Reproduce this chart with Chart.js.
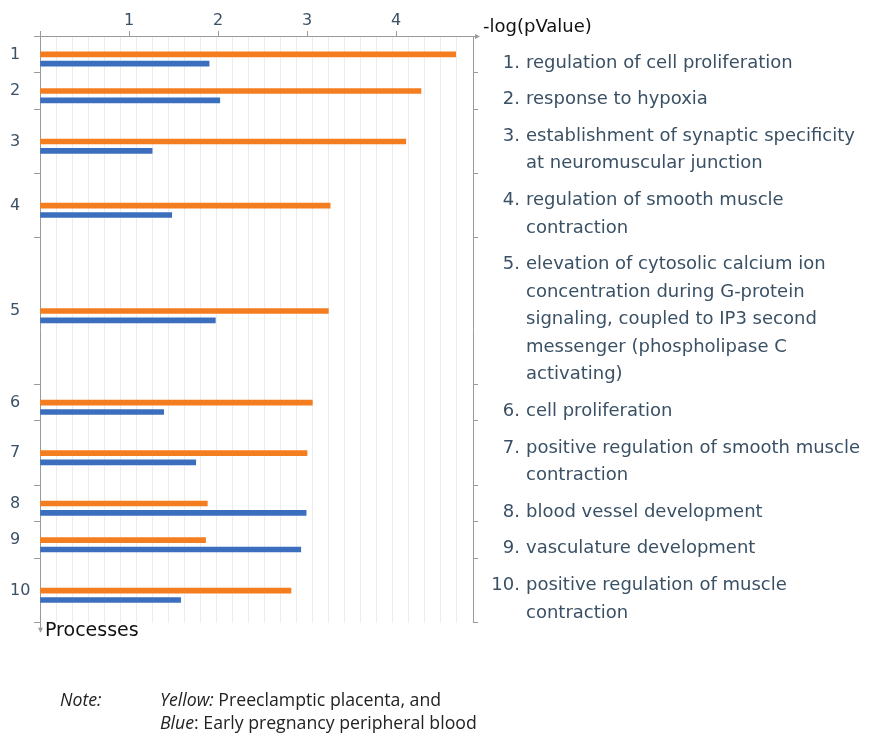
<!DOCTYPE html>
<html>
<head>
<meta charset="utf-8">
<script src="https://cdn.jsdelivr.net/npm/chart.js@4.4.0/dist/chart.umd.min.js"></script>
<style>
  html, body { margin: 0; padding: 0; background: #fff; }
  #wrap { position: relative; width: 869px; height: 735px; }
  #chart { position: absolute; left: 0; top: 0; }
  .note { position: absolute; font-family: "Open Sans", Lato, sans-serif; font-size: 17.7px; color: #222; white-space: nowrap; line-height: 23px; }
</style>
</head>
<body>
<div id="wrap">
  <canvas id="chart" width="869" height="735"></canvas>
  <div class="note" style="left:60px; top:688px;"><i>Note:</i></div>
  <div class="note" style="left:160px; top:688px;"><i>Yellow:</i> Preeclamptic placenta, and<br><i>Blue</i>: Early pregnancy peripheral blood</div>
</div>
<script>
// process numbers and their names (one entry per wrapped line)
const processes = ['1', '2', '3', '4', '5', '6', '7', '8', '9', '10'];
const processNames = [
    ['regulation of cell proliferation'],
    ['response to hypoxia'],
    ['establishment of synaptic specificity', 'at neuromuscular junction'],
    ['regulation of smooth muscle', 'contraction'],
    ['elevation of cytosolic calcium ion', 'concentration during G-protein', 'signaling, coupled to IP3 second', 'messenger (phospholipase C', 'activating)'],
    ['cell proliferation'],
    ['positive regulation of smooth muscle', 'contraction'],
    ['blood vessel development'],
    ['vasculature development'],
    ['positive regulation of muscle', 'contraction']
];
// -log(pValue)
const preeclampticPlacenta = [4.67, 4.28, 4.11, 3.26, 3.24, 3.06, 3.00, 1.88, 1.86, 2.82];
const earlyPregnancyBlood = [1.90, 2.02, 1.26, 1.48, 1.97, 1.39, 1.75, 2.99, 2.93, 1.58];
const xTicks = [0, 1, 2, 3, 4];

// row heights follow the number of text lines on the right
const ROW_PAD = 0.336;
const rowTops = [];
let acc = 0;
processNames.forEach(lines => { rowTops.push(acc); acc += lines.length + ROW_PAD; });
const yTotal = acc;
const rowMids = rowTops.map((t, i) => t + (processNames[i].length + ROW_PAD) / 2);
const boundaries = [...rowTops, yTotal];

const GREY = '#9a9a9a';
const LABEL = '#3a5064';

const decor = {
    id: 'decor',
    afterDraw(chart) {
        const ctx = chart.ctx;
        const a = chart.chartArea;
        const y = chart.scales.y;
        ctx.save();
        ctx.strokeStyle = GREY;
        ctx.fillStyle = GREY;
        ctx.lineWidth = 1;
        // top axis arrow
        ctx.beginPath();
        ctx.moveTo(a.right, a.top + 0.5);
        ctx.lineTo(476, a.top + 0.5);
        ctx.stroke();
        ctx.beginPath();
        ctx.moveTo(480, a.top + 0.5);
        ctx.lineTo(475, a.top - 2);
        ctx.lineTo(475, a.top + 3);
        ctx.fill();
        // left axis arrow down
        ctx.beginPath();
        ctx.moveTo(a.left + 0.5, a.bottom);
        ctx.lineTo(a.left + 0.5, a.bottom + 6);
        ctx.stroke();
        ctx.beginPath();
        ctx.moveTo(a.left + 0.5, a.bottom + 10);
        ctx.lineTo(a.left - 2, a.bottom + 5);
        ctx.lineTo(a.left + 3, a.bottom + 5);
        ctx.fill();

        ctx.fillStyle = '#111';
        ctx.textBaseline = 'middle';
        ctx.textAlign = 'left';
        ctx.font = '18px "DejaVu Sans"';
        ctx.fillText('-log(pValue)', 483, 27);
        ctx.font = '19px "DejaVu Sans"';
        ctx.fillText('Processes', a.left + 5, a.bottom + 8);

        // process names on the right
        ctx.font = '18px "DejaVu Sans"';
        ctx.fillStyle = LABEL;
        processNames.forEach((lines, i) => {
            lines.forEach((line, j) => {
                const py = y.getPixelForValue(rowTops[i] + ROW_PAD / 2 + j + 0.5 + 0.31);
                if (j === 0) {
                    ctx.textAlign = 'right';
                    ctx.fillText(processes[i] + '.', 520, py);
                }
                ctx.textAlign = 'left';
                ctx.fillText(line, 526, py);
            });
        });
        ctx.restore();
    }
};

new Chart(document.getElementById('chart'), {
    type: 'bar',
    data: {
        datasets: [
            {
                label: 'Preeclamptic placenta',
                data: preeclampticPlacenta.map((v, i) => ({ x: v, y: rowMids[i] })),
                backgroundColor: '#f47d20',
                barThickness: 5,
                grouped: false,
                yAxisID: 'y'
            },
            {
                label: 'Early pregnancy peripheral blood',
                data: earlyPregnancyBlood.map((v, i) => ({ x: v, y: rowMids[i] + 0.34 })),
                backgroundColor: '#3b6fbd',
                barThickness: 5,
                grouped: false,
                yAxisID: 'y'
            }
        ]
    },
    options: {
        indexAxis: 'y',
        responsive: false,
        animation: false,
        devicePixelRatio: 1,
        layout: { padding: { left: 10, top: 0, right: 0, bottom: 112.3 } },
        plugins: { legend: { display: false }, tooltip: { enabled: false } },
        scales: {
            x: {
                type: 'linear',
                position: 'top',
                min: 0,
                max: 4.865,
                offset: false,
                afterBuildTicks: s => { s.ticks = xTicks.map(v => ({ value: v })); },
                afterFit: s => { s.height = 36; },
                ticks: {
                    callback: v => v === 0 ? '' : v,
                    color: LABEL,
                    padding: 1,
                    font: { family: 'DejaVu Sans', size: 16 }
                },
                grid: { drawOnChartArea: false, color: GREY, tickLength: 5, offset: false },
                border: { color: GREY }
            },
            xGrid: {
                type: 'linear',
                position: 'bottom',
                min: 0,
                max: 27,
                offset: false,
                ticks: { display: false, stepSize: 1 },
                afterFit: s => { s.height = 0; },
                grid: { color: '#ececec', drawTicks: false, offset: false },
                border: { display: false }
            },
            y: {
                type: 'linear',
                position: 'left',
                reverse: true,
                min: 0,
                max: yTotal,
                offset: false,
                afterBuildTicks: s => { s.ticks = [...boundaries, ...rowMids].map(v => ({ value: v })); },
                afterFit: s => { s.width = 30; },
                ticks: {
                    autoSkip: false,
                    crossAlign: 'far',
                    callback: (v, i) => i > boundaries.length - 1 ? processes[i - boundaries.length] : '',
                    color: LABEL,
                    font: { family: 'DejaVu Sans', size: 16 }
                },
                grid: {
                    drawOnChartArea: false,
                    offset: false,
                    tickLength: 6,
                    tickColor: c => c.index < boundaries.length ? GREY : 'rgba(0,0,0,0)'
                },
                border: { color: GREY }
            },
            y2: {
                type: 'linear',
                position: 'right',
                reverse: true,
                min: 0,
                max: yTotal,
                offset: false,
                afterBuildTicks: s => { s.ticks = boundaries.map(v => ({ value: v })); },
                afterFit: s => { s.width = 396; },
                ticks: { display: false },
                grid: { drawOnChartArea: false, offset: false, tickLength: 5, color: GREY },
                border: { color: GREY }
            }
        }
    },
    plugins: [decor]
});
</script>
</body>
</html>
